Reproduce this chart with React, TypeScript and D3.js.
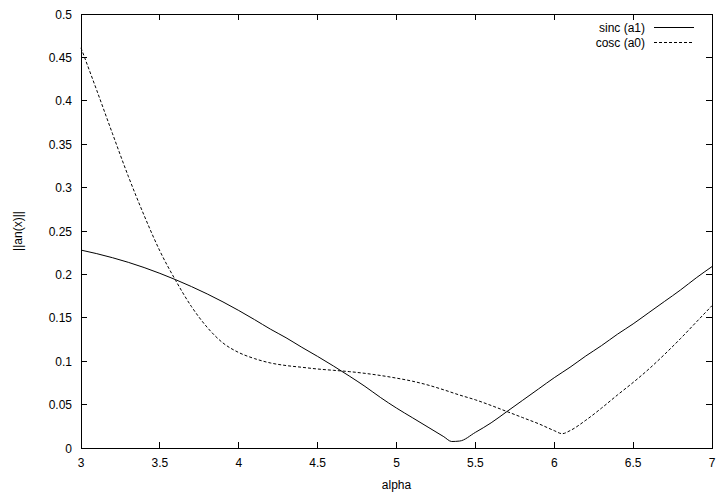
import React from "react";
import * as d3 from "d3";

const alphaSinc = [3.0, 3.1, 3.2, 3.3, 3.4, 3.5, 3.6, 3.7, 3.8, 3.9, 4.0, 4.1, 4.2, 4.3, 4.4, 4.5, 4.6, 4.7, 4.8, 4.9, 5.0, 5.1, 5.2, 5.3, 5.35, 5.4, 5.5, 5.6, 5.7, 5.8, 5.9, 6.0, 6.1, 6.2, 6.3, 6.4, 6.5, 6.6, 6.7, 6.8, 6.9, 7.0];
const sincA1 = [0.228, 0.2239, 0.2192, 0.2139, 0.2079, 0.2012, 0.1939, 0.186, 0.1775, 0.1683, 0.1584, 0.1479, 0.137, 0.127, 0.116, 0.1055, 0.0945, 0.083, 0.071, 0.058, 0.046, 0.035, 0.024, 0.013, 0.0075, 0.008, 0.018, 0.029, 0.042, 0.055, 0.068, 0.081, 0.093, 0.106, 0.118, 0.131, 0.143, 0.156, 0.169, 0.182, 0.196, 0.209];

const alphaCosc = [3.0, 3.1, 3.2, 3.3, 3.4, 3.5, 3.6, 3.7, 3.8, 3.9, 4.0, 4.1, 4.2, 4.3, 4.4, 4.5, 4.6, 4.7, 4.8, 4.9, 5.0, 5.1, 5.2, 5.3, 5.4, 5.5, 5.6, 5.7, 5.8, 5.9, 6.0, 6.05, 6.1, 6.2, 6.3, 6.4, 6.5, 6.6, 6.7, 6.8, 6.9, 7.0];
const coscA0 = [0.461, 0.412, 0.362, 0.313, 0.268, 0.227, 0.193, 0.163, 0.139, 0.121, 0.11, 0.103, 0.098, 0.095, 0.093, 0.091, 0.0895, 0.088, 0.086, 0.0835, 0.0805, 0.077, 0.0725, 0.067, 0.061, 0.0555, 0.049, 0.042, 0.035, 0.028, 0.02, 0.0165, 0.02, 0.032, 0.046, 0.061, 0.0755, 0.091, 0.108, 0.126, 0.145, 0.164];

const xTicks = [3, 3.5, 4, 4.5, 5, 5.5, 6, 6.5, 7];
const yTicks = [0, 0.05, 0.1, 0.15, 0.2, 0.25, 0.3, 0.35, 0.4, 0.45, 0.5];
const seriesNames = ["sinc (a1)", "cosc (a0)"];

const W = 720;
const H = 504;
const L = 81, R = 712, T = 14, B = 448;
const FONT = "'Liberation Sans', Arial, Helvetica, sans-serif";

export default function App() {
  const x = d3.scaleLinear().domain([3, 7]).range([L, R]);
  const y = d3.scaleLinear().domain([0, 0.5]).range([B, T]);
  const line = d3
    .line<[number, number]>()
    .x((d) => x(d[0]))
    .y((d) => y(d[1]))
    .curve(d3.curveMonotoneX);
  const sincPts: [number, number][] = alphaSinc.map((a, i) => [a, sincA1[i]]);
  const coscPts: [number, number][] = alphaCosc.map((a, i) => [a, coscA0[i]]);
  const tk = 6;
  const fmt = (v: number) => String(+v.toFixed(2));

  return (
    <svg
      width={W}
      height={H}
      style={{ position: "absolute", left: 0, top: 0, background: "#fff" }}
      fontFamily={FONT}
      fontSize={12}
    >
      <rect x={0} y={0} width={W} height={H} fill="#fff" />
      <g stroke="#000" strokeWidth={1} shapeRendering="crispEdges">
        {xTicks.map((t) => (
          <g key={"xt" + t}>
            <line x1={x(t)} x2={x(t)} y1={B} y2={B - tk} />
            <line x1={x(t)} x2={x(t)} y1={T} y2={T + tk} />
          </g>
        ))}
        {yTicks.map((t) => (
          <g key={"yt" + t}>
            <line x1={L} x2={L + tk} y1={y(t)} y2={y(t)} />
            <line x1={R} x2={R - tk} y1={y(t)} y2={y(t)} />
          </g>
        ))}
      </g>
      {xTicks.map((t) => (
        <text key={"xl" + t} x={x(t)} y={467} textAnchor="middle" fill="#000">
          {fmt(t)}
        </text>
      ))}
      {yTicks.map((t) => (
        <text key={"yl" + t} x={72} y={y(t) + 4.5} textAnchor="end" fill="#000">
          {fmt(t)}
        </text>
      ))}
      <text x={(L + R) / 2} y={489} textAnchor="middle" fill="#000">
        alpha
      </text>
      <text
        transform={`translate(22,${(T + B) / 2}) rotate(-90)`}
        textAnchor="middle"
        fill="#000"
      >
        ||an(x)||
      </text>
      <path d={line(sincPts) || ""} fill="none" stroke="#000" strokeWidth={1} />
      <path
        d={line(coscPts) || ""}
        fill="none"
        stroke="#000"
        strokeWidth={1}
        strokeDasharray="3,2"
      />
      <text x={645} y={31.5} textAnchor="end" fill="#000">
        {seriesNames[0]}
      </text>
      <line x1={654} x2={694} y1={27.5} y2={27.5} stroke="#000" strokeWidth={1} />
      <text x={645} y={46.5} textAnchor="end" fill="#000">
        {seriesNames[1]}
      </text>
      <line
        x1={654}
        x2={694}
        y1={42.5}
        y2={42.5}
        stroke="#000"
        strokeWidth={1}
        strokeDasharray="3,2"
      />
      <rect
        x={L}
        y={T}
        width={R - L}
        height={B - T}
        fill="none"
        stroke="#000"
        strokeWidth={1}
        shapeRendering="crispEdges"
      />
    </svg>
  );
}
